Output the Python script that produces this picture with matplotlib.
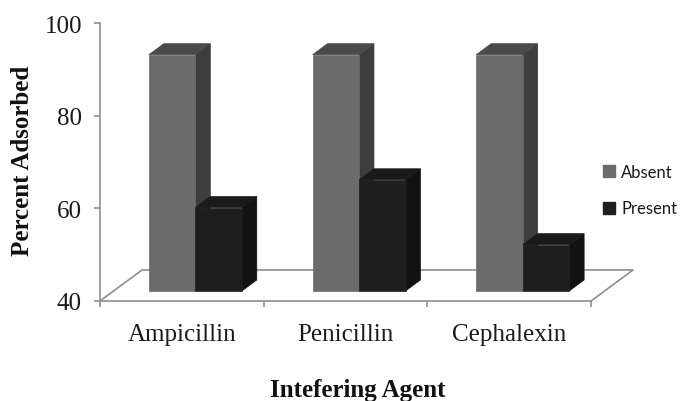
import numpy as np
import matplotlib.pyplot as plt
from matplotlib.patches import Polygon
from matplotlib.lines import Line2D

# data
agents = ["Ampicillin", "Penicillin", "Cephalexin"]
absent = [91, 91, 91]
present = [58, 64, 50]
series_names = ["Absent", "Present"]

# colours: front, top, side faces
absent_cols = ("#6b6b6b", "#4a4a4a", "#3d3d3d")
present_cols = ("#1e1e1e", "#1a1a1a", "#121212")
line_col = "#8f8f8f"

# fake 3D depth, in data units (full floor depth)
DX = 0.257
DY = 6.7
d0, d1 = 0.323, 0.677
bar_w = 0.284
ymin, ymax = 40, 100

fig = plt.figure(figsize=(6.83, 4.02), dpi=100)
ax = fig.add_axes([100 / 683, 100 / 402, 491 / 683, 278 / 402])
ax.set_xlim(0, 3)
ax.set_ylim(ymin, ymax)


def box(x0, v, cols, z):
    # front face, top and right side of one column
    fx0, fx1 = x0 + d0 * DX, x0 + bar_w + d0 * DX
    bx0, bx1 = x0 + d1 * DX, x0 + bar_w + d1 * DX
    yb0, yb1 = ymin + d0 * DY, ymin + d1 * DY
    yt0, yt1 = v + d0 * DY, v + d1 * DY
    side = [(fx1, yb0), (bx1, yb1), (bx1, yt1), (fx1, yt0)]
    top = [(fx0, yt0), (fx1, yt0), (bx1, yt1), (bx0, yt1)]
    front = [(fx0, yb0), (fx1, yb0), (fx1, yt0), (fx0, yt0)]
    for pts, c in [(side, cols[2]), (top, cols[1]), (front, cols[0])]:
        ax.add_patch(Polygon(pts, closed=True, facecolor=c, edgecolor=c,
                             linewidth=0.5, zorder=z, clip_on=False))


# floor outline
n = len(agents)
ax.plot([0, DX, n + DX, n], [ymin, ymin + DY, ymin + DY, ymin],
        color=line_col, lw=1.2, clip_on=False, zorder=1)

z = 2
for i in range(n):
    box(i + 0.5 - bar_w, absent[i], absent_cols, z)
    box(i + 0.5, present[i], present_cols, z + 1)
    z += 2

# axes styling
for s in ["top", "right"]:
    ax.spines[s].set_visible(False)
for s in ["left", "bottom"]:
    ax.spines[s].set_color(line_col)
    ax.spines[s].set_linewidth(1.2)
    ax.spines[s].set_zorder(1)

ax.set_yticks([40, 60, 80, 100])
ax.tick_params(axis="y", length=4, width=1.2, color=line_col, pad=9,
               labelsize=18)
ax.set_xticks([0, 1, 2, 3])
ax.set_xticklabels([])
ax.set_xticks(np.arange(n) + 0.5, minor=True)
ax.set_xticklabels(agents, minor=True)
ax.tick_params(axis="x", which="major", length=4, width=1.2, color=line_col)
ax.tick_params(axis="x", which="minor", length=0, pad=16, labelsize=18)
for lab in ax.get_yticklabels() + ax.get_xticklabels(minor=True):
    lab.set_family("Liberation Serif")
    lab.set_color("#1a1a1a")

fig.text(23 / 683, 0.60, "Percent Adsorbed", rotation=90, ha="center",
         va="center", family="Liberation Serif", fontweight="bold",
         fontsize=18, color="#111111")
fig.text(358 / 683, 11 / 402, "Intefering Agent", ha="center", va="center",
         family="Liberation Serif", fontweight="bold", fontsize=18,
         color="#111111")

handles = [Line2D([], [], marker="s", linestyle="none", markersize=8,
                  markerfacecolor=c[0], markeredgecolor=c[0])
           for c in (absent_cols, present_cols)]
leg = fig.legend(handles, series_names, loc="center left",
                 bbox_to_anchor=(602 / 683, 211 / 402), frameon=False,
                 borderpad=0, borderaxespad=0, handlelength=0.8,
                 handletextpad=0.35, labelspacing=1.25,
                 prop={"family": "Lato", "size": 12})
for t in leg.get_texts():
    t.set_color("#1a1a1a")

fig.savefig("out.png", dpi=100)
